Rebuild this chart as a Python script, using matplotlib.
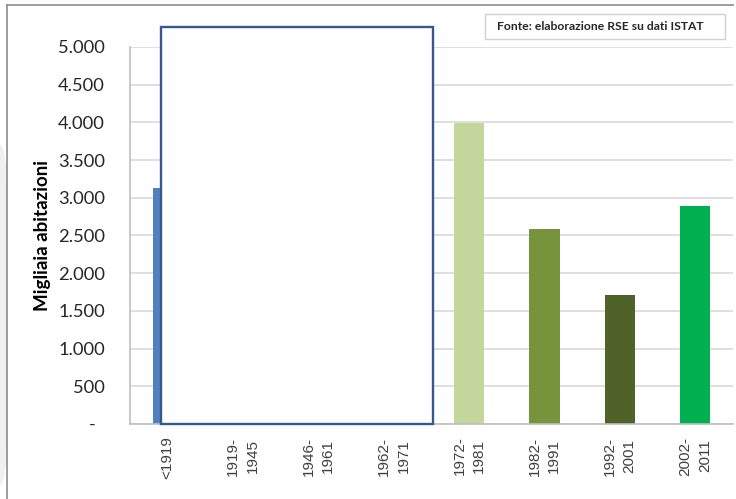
import matplotlib
matplotlib.use("Agg")
import matplotlib.pyplot as plt
from matplotlib.patches import Rectangle, Ellipse
from matplotlib.lines import Line2D

# dati (migliaia di abitazioni per epoca di costruzione)
periodi = ['<1919', '1919-\n1945', '1946-\n1961', '1962-\n1971',
           '1972-\n1981', '1982-\n1991', '1992-\n2001', '2002-\n2011']
abitazioni = [3130, 2600, 4500, 4950, 3995, 2590, 1715, 2895]
colori = ['#4f81bd', '#4f81bd', '#4f81bd', '#4f81bd',
          '#c3d69b', '#77933c', '#4f6228', '#00b050']
yticks = [0, 500, 1000, 1500, 2000, 2500, 3000, 3500, 4000, 4500, 5000]
ylabels = ['-  ', '500', '1.000', '1.500', '2.000', '2.500', '3.000',
           '3.500', '4.000', '4.500', '5.000']

plt.rcParams['font.family'] = ['Lato', 'DejaVu Sans']

W, H = 736, 499
fig = plt.figure(figsize=(W / 100, H / 100), dpi=100)

# cornice esterna
fig.add_artist(Ellipse((0.0, (H - 315) / H), 0.03, 0.68,
                       transform=fig.transFigure, color='#f0f0f0', zorder=-2))
fig.add_artist(Rectangle((8 / W, 0), 725 / W, 1 - 6 / H, transform=fig.transFigure,
                         color='white', zorder=-1))
fig.add_artist(Line2D([7 / W, 7 / W], [0, 1 - 5 / H], color='#8c8c8c', lw=1.2,
                      transform=fig.transFigure))
fig.add_artist(Line2D([7 / W, 733 / W], [1 - 5 / H, 1 - 5 / H], color='#8c8c8c', lw=1.2,
                      transform=fig.transFigure))

ax = fig.add_axes([130 / W, (H - 424) / H, (733 - 130) / W, (424 - 47) / H])
ax.set_facecolor('none')
x = range(len(periodi))
ax.bar(x, abitazioni, width=0.4, color=colori, zorder=2)
ax.set_xlim(-0.5, len(periodi) - 0.5)
ax.set_ylim(0, 5000)

ax.set_yticks(yticks)
ax.set_yticklabels(ylabels, fontsize=13.2, color='#262626')
ax.set_xticks(list(x))
ax.set_xticklabels(periodi, rotation=90, fontsize=11, color='#404040',
                   family='Liberation Sans', ha='center', va='top',
                   multialignment='center', linespacing=1.5)
ax.tick_params(axis='y', length=0, pad=18)
ax.tick_params(axis='x', length=0, pad=9)
ax.grid(axis='y', color='#d9d9d9', lw=1.2, zorder=0)
for s in ['top', 'right']:
    ax.spines[s].set_visible(False)
for s in ['left', 'bottom']:
    ax.spines[s].set_color('#bfbfbf')
    ax.spines[s].set_linewidth(1.2)

ax.set_ylabel('Migliaia abitazioni', fontsize=13.5, fontweight='bold', labelpad=5)

# riquadro bianco sovrapposto
ax.add_patch(Rectangle((-0.09, 0), 3.61, 5265, facecolor='white',
                       edgecolor='#35598f', lw=1.7, zorder=5, clip_on=False))

# fonte
fig.text(497 / W, 1 - 27 / H, 'Fonte: elaborazione RSE su dati ISTAT', fontsize=8.7,
         fontweight='bold', color='#262626', va='center', ha='left', zorder=3)
fig.add_artist(Rectangle((485 / W, 1 - 39 / H), 240 / W, 25 / H, transform=fig.transFigure,
                         facecolor='white', edgecolor='#d0d0d0', lw=1.0, zorder=1))

fig.savefig('out.png', dpi=100)
